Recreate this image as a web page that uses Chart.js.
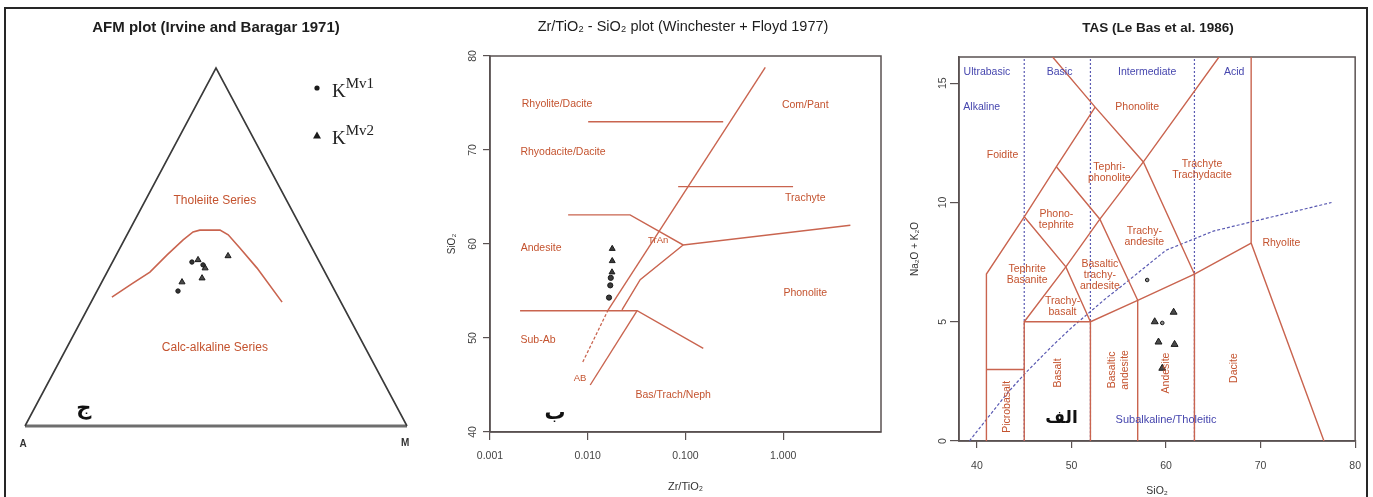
<!DOCTYPE html>
<html>
<head>
<meta charset="utf-8">
<title>AFM, Zr/TiO2 - SiO2 and TAS diagrams</title>
<script src="https://cdn.jsdelivr.net/npm/chart.js@4.4.1/dist/chart.umd.min.js"></script>
<style>
  html, body { margin: 0; padding: 0; background: #fff; }
  body { width: 1373px; height: 497px; position: relative; overflow: hidden; }
  canvas { position: absolute; top: 0; }
  #afm { left: 0; }
  #wf { left: 440px; }
  #tas { left: 900px; }
  .frame { position: absolute; left: 4px; top: 7px; width: 1364px; height: 500px; box-sizing: border-box;
           border-left: 2px solid #262626; border-top: 2px solid #262626; border-right: 2px solid #262626; }
</style>
</head>
<body>
<canvas id="afm" width="440" height="497"></canvas>
<canvas id="wf" width="460" height="497"></canvas>
<canvas id="tas" width="473" height="497"></canvas>
<div class="frame"></div>
<script>
// ---------- AFM diagram (Irvine & Baragar 1971): F and M in %, A = 100 - F - M ----------
const afmBoundaryF = [36.0, 39.9, 43.0, 47.8, 52.0, 54.2, 54.7, 54.7, 53.4, 49.7, 44.1, 34.6];
const afmBoundaryM = [4.75, 8.3, 11.2, 13.3, 15.4, 16.9, 18.4, 23.7, 26.5, 31.4, 38.7, 50.0];
const afmKMv1F = [45.8, 45.0, 37.7];
const afmKMv1M = [20.8, 24.1, 21.2];
const afmKMv2F = [47.5, 46.4, 41.3, 40.2, 44.1];
const afmKMv2M = [29.4, 22.1, 25.7, 21.0, 25.1];

// ---------- Zr/TiO2 - SiO2 (Winchester & Floyd 1977) ----------
const wfTicksX = [0.001, 0.01, 0.1, 1];
const wfTicksY = [40, 50, 60, 70, 80];
const wfKMv1ZrTi = [0.0172, 0.0170, 0.0165];
const wfKMv1SiO2 = [56.4, 55.6, 54.3];
const wfKMv2ZrTi = [0.0178, 0.0178, 0.0177];
const wfKMv2SiO2 = [59.5, 58.2, 57.0];
const wfLineComPant = [[0.655, 78.8], [0.0162, 53.0]];
const wfLineAlkDashed = [[0.0162, 53.0], [0.00875, 47.3]];
const wfLineRhyDac = [[0.0101, 73.0], [0.243, 73.0]];
const wfLineTrachyte = [[0.0841, 66.1], [1.26, 66.1]];
const wfLineAndesite = [[0.0063, 63.1], [0.0271, 63.1], [0.0946, 59.9], [4.86, 62.0]];
const wfLineTrAn = [[0.0946, 59.9], [0.0344, 56.2], [0.0224, 53.0]];
const wfLineSubAb = [[0.00203, 52.9], [0.032, 52.9], [0.152, 48.9]];
const wfLineAb = [[0.032, 52.9], [0.0106, 45.0]];

// ---------- TAS (Le Bas et al. 1986) ----------
const tasTicksX = [40, 50, 60, 70, 80];
const tasTicksY = [0, 5, 10, 15];
const tasKMv1SiO2 = [59.6, 58.0];
const tasKMv1Alk = [4.95, 6.75];
const tasKMv2SiO2 = [60.8, 58.8, 59.2, 60.9, 59.6];
const tasKMv2Alk = [5.4, 5.0, 4.15, 4.05, 3.05];
const tasFieldLines = [
  [[41, 0], [41, 7], [45, 9.4], [48.4, 11.5], [52.5, 14]],
  [[48, 16.1], [52.5, 14], [57.6, 11.7], [63, 7]],
  [[45, 5], [49.4, 7.3], [53, 9.3], [57.6, 11.7], [65.6, 16.1]],
  [[45, 9.4], [49.4, 7.3], [52, 5]],
  [[48.4, 11.5], [53, 9.3], [57, 5.9]],
  [[45, 0], [45, 5], [52, 5]],
  [[52, 0], [52, 5], [57, 5.9], [63, 7], [69, 8.3]],
  [[57, 0], [57, 5.9]],
  [[63, 0], [63, 7]],
  [[69, 16.1], [69, 8.3], [76.7, 0]],
  [[41, 3], [45, 3]]
];
const tasSilicaDividers = [45, 52, 63];
const tasAlkalineLine = [[39.2, 0], [40, 0.4], [43.2, 2], [45, 2.8], [48, 4], [50, 4.75], [53.7, 6],
                         [55, 6.4], [60, 8], [65, 8.8], [77.5, 10]];

// ---------- styling ----------
const RED_LINE = '#c9644f';
const RED_TEXT = '#c4532f';
const BLUE_LINE = '#5a5ab2';
const BLUE_TEXT = '#4646ae';
const AXIS = '#5a5252';
const SANS = "'Liberation Sans', Arial, 'DejaVu Sans', sans-serif";
const LABEL = '10.5px ' + SANS;

const pts = pairs => pairs.map(([x, y]) => ({ x, y }));
const zipPts = (xs, ys) => xs.map((x, i) => ({ x, y: ys[i] }));
const tern = (F, M) => ({ x: (M + F / 2) / 100, y: F / 100 });

function lineSet(points, color, width, dash, clip) {
  return { data: points, showLine: true, borderColor: color, borderWidth: width, borderDash: dash || [],
           pointRadius: 0, pointHoverRadius: 0, fill: false, tension: 0, order: 2, clip: clip === false ? false : undefined };
}
function markerSet(points, style, radius, fill) {
  return { data: points, showLine: false, pointStyle: style, pointRadius: radius, pointHoverRadius: radius,
           backgroundColor: fill, borderColor: '#1b1b1b', borderWidth: 1, clip: false, order: 1 };
}

// Text labels placed in data units (x/y) or canvas pixels (px/py); optional chart frame
function textLayer(items, box) {
  return {
    id: 'textLayer',
    beforeDatasetsDraw(chart) {
      if (!box) return;
      const a = chart.chartArea, ctx = chart.ctx;
      ctx.save();
      ctx.strokeStyle = AXIS;
      ctx.lineWidth = 1.5;
      ctx.strokeRect(a.left, a.top, a.right - a.left, a.bottom - a.top);
      ctx.restore();
    },
    afterDraw(chart) {
      const ctx = chart.ctx, xs = chart.scales.x, ys = chart.scales.y;
      items.forEach(it => {
        const px = it.px != null ? it.px : xs.getPixelForValue(it.x);
        const py = it.py != null ? it.py : ys.getPixelForValue(it.y);
        const lines = it.text.split('\n');
        const lh = it.lh || 11;
        ctx.save();
        ctx.font = it.font || LABEL;
        ctx.fillStyle = it.color || RED_TEXT;
        ctx.textAlign = 'center';
        ctx.textBaseline = 'middle';
        ctx.translate(px, py);
        if (it.rot) ctx.rotate(it.rot * Math.PI / 180);
        lines.forEach((l, i) => ctx.fillText(l, 0, (i - (lines.length - 1) / 2) * lh));
        ctx.restore();
      });
    }
  };
}

const baseOptions = {
  responsive: false, animation: false, devicePixelRatio: 1, events: [],
  plugins: { legend: { display: false }, tooltip: { enabled: false }, title: { display: false } }
};

// ================= AFM =================
const afmLegend = {
  id: 'afmLegend',
  afterDraw(chart) {
    const ctx = chart.ctx;
    ctx.save();
    ctx.fillStyle = '#1b1b1b';
    ctx.beginPath(); ctx.arc(317, 88, 2.6, 0, Math.PI * 2); ctx.fill();
    ctx.beginPath(); ctx.moveTo(317, 131.5); ctx.lineTo(321, 138.5); ctx.lineTo(313, 138.5); ctx.closePath(); ctx.fill();
    ctx.fillStyle = '#222';
    ctx.textBaseline = 'alphabetic';
    ctx.textAlign = 'left';
    [['Mv1', 97], ['Mv2', 144]].forEach(([sup, base]) => {
      ctx.font = "19px 'Liberation Serif', 'DejaVu Serif', serif";
      ctx.fillText('K', 332, base);
      const w = ctx.measureText('K').width;
      ctx.font = "15px 'Liberation Serif', 'DejaVu Serif', serif";
      ctx.fillText(sup, 332 + w, base - 9);
    });
    ctx.restore();
  }
};

new Chart(document.getElementById('afm'), {
  type: 'scatter',
  data: {
    datasets: [
      lineSet([tern(0, 0), tern(100, 0), tern(0, 100)], '#3a3a3a', 1.6, null, false),
      lineSet([tern(0, 0), tern(0, 100)], '#6e6e6e', 3, null, false),
      lineSet(afmBoundaryF.map((F, i) => tern(F, afmBoundaryM[i])), RED_LINE, 1.6, null, false),
      markerSet(afmKMv1F.map((F, i) => tern(F, afmKMv1M[i])), 'circle', 2.2, '#333'),
      markerSet(afmKMv2F.map((F, i) => tern(F, afmKMv2M[i])), 'triangle', 3.5, '#4a4a4a')
    ]
  },
  options: Object.assign({}, baseOptions, {
    layout: { padding: { left: 25, right: 33, top: 68, bottom: 71 } },
    scales: {
      x: { type: 'linear', min: 0, max: 1, display: false },
      y: { type: 'linear', min: 0, max: 1, display: false }
    }
  }),
  plugins: [textLayer([
    { text: 'AFM plot (Irvine and Baragar 1971)', px: 216, py: 28, font: 'bold 15px ' + SANS, color: '#1e1e1e' },
    { text: 'Tholeiite Series', x: 0.497, y: 0.628, font: '12px ' + SANS },
    { text: 'Calc-alkaline Series', x: 0.497, y: 0.218, font: '12px ' + SANS },
    { text: 'A', x: -0.005, y: -0.05, font: 'bold 10px ' + SANS, color: '#333' },
    { text: 'M', x: 0.995, y: -0.047, font: 'bold 10px ' + SANS, color: '#333' },
    { text: 'ج', x: 0.154, y: 0.05, font: "bold 21px 'DejaVu Sans', sans-serif", color: '#111' }
  ], false), afmLegend]
});

// ================= Winchester & Floyd =================
const tickFont = { family: SANS, size: 10.5 };
new Chart(document.getElementById('wf'), {
  type: 'scatter',
  data: {
    datasets: [
      lineSet(pts(wfLineComPant), RED_LINE, 1.4),
      lineSet(pts(wfLineAlkDashed), RED_LINE, 1.3, [3, 2]),
      lineSet(pts(wfLineRhyDac), RED_LINE, 1.4),
      lineSet(pts(wfLineTrachyte), RED_LINE, 1.4),
      lineSet(pts(wfLineAndesite), RED_LINE, 1.4),
      lineSet(pts(wfLineTrAn), RED_LINE, 1.4),
      lineSet(pts(wfLineSubAb), RED_LINE, 1.4),
      lineSet(pts(wfLineAb), RED_LINE, 1.4),
      markerSet(zipPts(wfKMv1ZrTi, wfKMv1SiO2), 'circle', 2.6, '#3a3a3a'),
      markerSet(zipPts(wfKMv2ZrTi, wfKMv2SiO2), 'triangle', 3.4, '#3a3a3a')
    ]
  },
  options: Object.assign({}, baseOptions, {
    layout: { padding: { left: 0, right: 19, top: 56, bottom: 0 } },
    scales: {
      x: {
        type: 'logarithmic', min: 0.001, max: 10, position: 'bottom',
        afterFit: s => { s.height = 65; },
        afterBuildTicks: s => { s.ticks = wfTicksX.map(v => ({ value: v })); },
        ticks: { callback: v => Number(v).toFixed(3), font: tickFont, color: '#444', padding: 10,
                 minRotation: 0, maxRotation: 0, autoSkip: false },
        grid: { drawOnChartArea: false, tickLength: 8, color: AXIS, lineWidth: 1.2 },
        border: { color: AXIS, width: 1.5 },
        title: { display: true, text: 'Zr/TiO₂', font: { family: SANS, size: 11 }, color: '#333', padding: { top: 0, bottom: 3 } }
      },
      y: {
        type: 'linear', min: 40, max: 80,
        afterFit: s => { s.width = 50; },
        afterBuildTicks: s => { s.ticks = wfTicksY.map(v => ({ value: v })); },
        ticks: { minRotation: 90, maxRotation: 90, crossAlign: 'center', padding: 4, font: tickFont, color: '#444' },
        grid: { drawOnChartArea: false, tickLength: 7, color: AXIS, lineWidth: 1.2 },
        border: { color: AXIS, width: 1.5 },
        title: { display: true, text: 'SiO₂', font: { family: SANS, size: 10 }, color: '#333', padding: { top: 6, bottom: 0 } }
      }
    }
  }),
  plugins: [textLayer([
    { text: 'Zr/TiO₂ - SiO₂ plot (Winchester + Floyd 1977)', px: 243, py: 27, font: '14.5px ' + SANS, color: '#1e1e1e' },
    { text: 'Rhyolite/Dacite', x: 0.00485, y: 74.9 },
    { text: 'Rhyodacite/Dacite', x: 0.00558, y: 69.8 },
    { text: 'Com/Pant', x: 1.68, y: 74.8 },
    { text: 'Trachyte', x: 1.68, y: 64.9 },
    { text: 'Andesite', x: 0.00333, y: 59.6 },
    { text: 'TrAn', x: 0.0525, y: 60.4, font: '9.5px ' + SANS },
    { text: 'Phonolite', x: 1.68, y: 54.8 },
    { text: 'Sub-Ab', x: 0.0031, y: 49.8 },
    { text: 'AB', x: 0.00835, y: 45.7, font: '9.5px ' + SANS },
    { text: 'Bas/Trach/Neph', x: 0.0748, y: 43.9 },
    { text: 'ب', x: 0.00463, y: 42.0, font: "bold 21px 'DejaVu Sans', sans-serif", color: '#111' }
  ], true)]
});

// ================= TAS =================
const tasDatasets = [];
tasFieldLines.forEach(l => tasDatasets.push(lineSet(pts(l), RED_LINE, 1.4)));
tasSilicaDividers.forEach(s => tasDatasets.push(lineSet(pts([[s, 0], [s, 16.1]]), BLUE_LINE, 1.2, [2, 2])));
tasDatasets.push(lineSet(pts(tasAlkalineLine), BLUE_LINE, 1.2, [3, 2]));
tasDatasets.push(markerSet(zipPts(tasKMv1SiO2, tasKMv1Alk), 'circle', 1.8, '#888'));
tasDatasets.push(markerSet(zipPts(tasKMv2SiO2, tasKMv2Alk), 'triangle', 4, '#4a4a4a'));

new Chart(document.getElementById('tas'), {
  type: 'scatter',
  data: { datasets: tasDatasets },
  options: Object.assign({}, baseOptions, {
    layout: { padding: { left: 0, right: 16, top: 57, bottom: 0 } },
    scales: {
      x: {
        type: 'linear', min: 38.1, max: 80, position: 'bottom',
        afterFit: s => { s.height = 56; },
        afterBuildTicks: s => { s.ticks = tasTicksX.map(v => ({ value: v })); },
        ticks: { font: tickFont, color: '#444', padding: 12, minRotation: 0, maxRotation: 0, autoSkip: false },
        grid: { drawOnChartArea: false, tickLength: 7, color: AXIS, lineWidth: 1.2 },
        border: { color: AXIS, width: 1.5 },
        title: { display: true, text: 'SiO₂', font: { family: SANS, size: 10.5 }, color: '#333', padding: { top: 0, bottom: 0 } }
      },
      y: {
        type: 'linear', min: 0, max: 16.1,
        afterFit: s => { s.width = 59; },
        afterBuildTicks: s => { s.ticks = tasTicksY.map(v => ({ value: v })); },
        ticks: { minRotation: 90, maxRotation: 90, crossAlign: 'center', padding: 1, font: tickFont, color: '#444' },
        grid: { drawOnChartArea: false, tickLength: 9, color: AXIS, lineWidth: 1.2 },
        border: { color: AXIS, width: 1.5 },
        title: { display: true, text: 'Na₂O + K₂O', font: { family: SANS, size: 10 }, color: '#333', padding: { top: 9, bottom: 0 } }
      }
    }
  }),
  plugins: [textLayer([
    { text: 'TAS (Le Bas et al. 1986)', px: 258, py: 28, font: 'bold 13.5px ' + SANS, color: '#1e1e1e' },
    { text: 'Ultrabasic', x: 41.05, y: 15.47, color: BLUE_TEXT },
    { text: 'Basic', x: 48.74, y: 15.47, color: BLUE_TEXT },
    { text: 'Intermediate', x: 58.0, y: 15.47, color: BLUE_TEXT },
    { text: 'Acid', x: 67.2, y: 15.47, color: BLUE_TEXT },
    { text: 'Alkaline', x: 40.5, y: 14.0, color: BLUE_TEXT },
    { text: 'Foidite', x: 42.7, y: 12.0 },
    { text: 'Phonolite', x: 56.95, y: 14.0 },
    { text: 'Tephri-\nphonolite', x: 54.0, y: 11.24 },
    { text: 'Trachyte\nTrachydacite', x: 63.8, y: 11.36 },
    { text: 'Phono-\ntephrite', x: 48.4, y: 9.27 },
    { text: 'Trachy-\nandesite', x: 57.7, y: 8.55 },
    { text: 'Rhyolite', x: 72.2, y: 8.3 },
    { text: 'Tephrite\nBasanite', x: 45.3, y: 6.96 },
    { text: 'Basaltic\ntrachy-\nandesite', x: 53.0, y: 6.96 },
    { text: 'Trachy-\nbasalt', x: 49.05, y: 5.62 },
    { text: 'Basalt', x: 48.6, y: 2.85, rot: -90 },
    { text: 'Basaltic\nandesite', x: 55.0, y: 2.98, rot: -90, lh: 13 },
    { text: 'Andesite', x: 60.0, y: 2.85, rot: -90 },
    { text: 'Dacite', x: 67.2, y: 3.06, rot: -90 },
    { text: 'Picrobasalt', x: 43.2, y: 1.43, rot: -90 },
    { text: 'Subalkaline/Tholeitic', x: 60.0, y: 0.88, color: BLUE_TEXT, font: '11px ' + SANS },
    { text: 'الف', x: 48.95, y: 0.92, font: "bold 17px 'DejaVu Sans', sans-serif", color: '#111' }
  ], true)]
});
</script>
</body>
</html>
